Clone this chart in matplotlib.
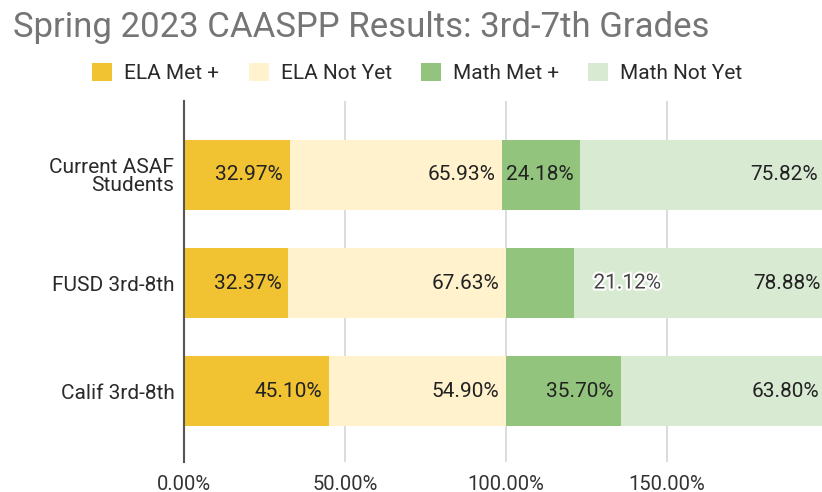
import matplotlib
matplotlib.use("Agg")
import matplotlib.pyplot as plt
from matplotlib.patches import Patch
import matplotlib.patheffects as pe
import numpy as np

plt.rcParams['font.family'] = ['Roboto', 'DejaVu Sans']

categories = ["Current ASAF\nStudents", "FUSD 3rd-8th", "Calif 3rd-8th"]
series_names = ["ELA Met +", "ELA Not Yet", "Math Met +", "Math Not Yet"]
ela_met = [32.97, 32.37, 45.10]
ela_not_yet = [65.93, 67.63, 54.90]
math_met = [24.18, 21.12, 35.70]
math_not_yet = [75.82, 78.88, 63.80]
xticks = [0, 50, 100, 150]
xtick_labels = ["0.00%", "50.00%", "100.00%", "150.00%"]

colors = ["#F1C232", "#FFF2CC", "#93C47D", "#D9EAD3"]
series = [ela_met, ela_not_yet, math_met, math_not_yet]

W, H = 822, 492
fig = plt.figure(figsize=(W / 100, H / 100), dpi=100)
ax_left, ax_right = 184, 828
ax_top, ax_bottom = 101, 462
ax = fig.add_axes([ax_left / W, (H - ax_bottom) / H,
                   (ax_right - ax_left) / W, (ax_bottom - ax_top) / H])

y = np.arange(len(categories))
left = np.zeros(len(categories))
for si, (vals, col) in enumerate(zip(series, colors)):
    vals = np.array(vals)
    ax.barh(y, vals, left=left, height=0.648, color=col, zorder=2, linewidth=0)
    for ci in range(len(categories)):
        end = left[ci] + vals[ci]
        txt = f"{vals[ci]:.2f}%"
        if (ci, si) == (1, 2):
            t = ax.annotate(txt, xy=(end, y[ci]), xytext=(14, 0), textcoords='offset points',
                            ha='left', va='center', fontsize=15, color='#444444', zorder=4)
            t.set_path_effects([pe.withStroke(linewidth=3, foreground='white')])
        else:
            ax.annotate(txt, xy=(end, y[ci]), xytext=(-5, 0), textcoords='offset points',
                        ha='right', va='center', fontsize=15, color='#222222', zorder=4)
    left = left + vals

ax.set_xlim(0, 200)
ax.set_ylim(2.657, -0.685)
ax.set_yticks(y)
ax.set_yticklabels(categories, fontsize=15, color='#2a2a2a', linespacing=0.95)
ax.set_xticks(xticks)
ax.set_xticklabels(xtick_labels, fontsize=14.5, color='#333333')
ax.tick_params(axis='both', length=0)
ax.tick_params(axis='y', pad=7)
ax.tick_params(axis='x', pad=9)
ax.grid(axis='x', color='#D9D9D9', linewidth=1.3, zorder=0)
ax.set_axisbelow(True)
for s in ['top', 'right', 'bottom']:
    ax.spines[s].set_visible(False)
ax.spines['left'].set_color('#555555')
ax.spines['left'].set_linewidth(1.5)
ax.spines['left'].set_zorder(5)

fig.text(13 / W, 1 - 37 / H, "Spring 2023 CAASPP Results: 3rd-7th Grades",
         fontsize=25, color='#757575', ha='left', va='baseline')

handles = [Patch(facecolor=c, edgecolor='none', label=n) for c, n in zip(colors, series_names)]
fig.legend(handles=handles, loc='center', bbox_to_anchor=(417.5 / W, 1 - 73 / H), ncol=4,
           frameon=False, fontsize=15, handlelength=0.96, handleheight=0.96,
           handletextpad=0.58, columnspacing=1.4, labelcolor='#2a2a2a')

fig.savefig("out.png", dpi=100)
